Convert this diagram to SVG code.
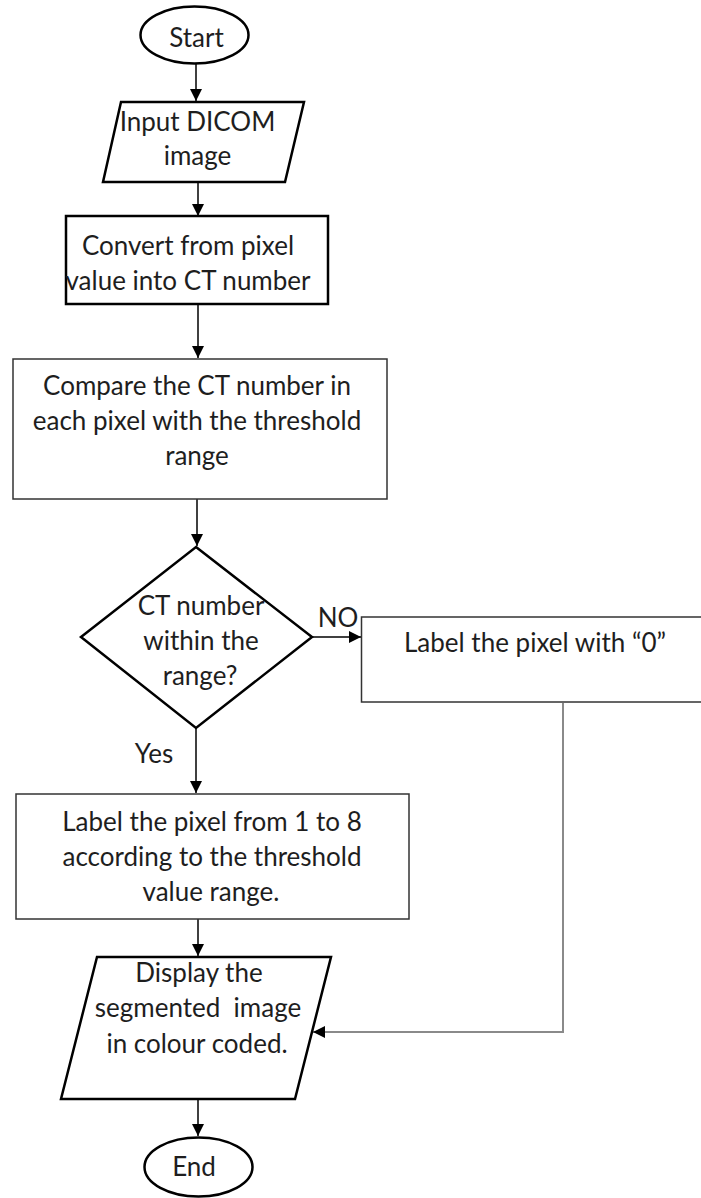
<svg xmlns="http://www.w3.org/2000/svg" width="701" height="1198" viewBox="0 0 701 1198">
<style>
.bg{fill:#ffffff}
.thick{fill:#ffffff;stroke:#000000;stroke-width:2.5}
.thin{fill:#ffffff;stroke:#333333;stroke-width:1.5}
.t{font-family:Lato,"Open Sans","Liberation Sans",sans-serif;font-size:26px;fill:#1e1e1e;text-anchor:middle;white-space:pre}
.arr{fill:none;stroke:#000000;stroke-width:1.5;marker-end:url(#ah)}
.gray{fill:none;stroke:#8a8a8a;stroke-width:2;marker-end:url(#ah)}
</style>
<defs>
<marker id="ah" viewBox="0 0 10 10" refX="10" refY="5" markerUnits="userSpaceOnUse" markerWidth="12" markerHeight="12" orient="auto">
<path d="M0,0 L10,5 L0,10 z" fill="#000000"/>
</marker>
</defs>
<rect class="bg" x="0" y="0" width="701" height="1198"/>

<g id="connectors">
<line class="arr" x1="196" y1="63" x2="196" y2="101"/>
<line class="arr" x1="198" y1="182" x2="198" y2="216"/>
<line class="arr" x1="198" y1="304" x2="198" y2="358"/>
<line class="arr" x1="197" y1="499" x2="197" y2="546"/>
<line class="arr" x1="312" y1="637" x2="361" y2="637"/>
<line class="arr" x1="196" y1="728" x2="196" y2="793"/>
<line class="arr" x1="198" y1="919" x2="198" y2="956"/>
<polyline class="gray" points="563,703 563,1032 313,1032"/>
<line class="arr" x1="198" y1="1099" x2="198" y2="1136"/>
<text class="t" x="338" y="627">NO</text>
<text class="t" x="154" y="763">Yes</text>
</g>

<g id="start">
<ellipse class="thick" cx="194.5" cy="35" rx="54" ry="28.5"/>
<text class="t" x="196.5" y="46.5">Start</text>
</g>

<g id="input">
<polygon class="thick" points="121,102 304,102 285,182 103,182"/>
<text class="t" x="197.5" y="131">Input DICOM</text>
<text class="t" x="197.5" y="165">image</text>
</g>

<g id="convert">
<rect class="thick" x="66" y="216" width="262" height="88"/>
<text class="t" x="188" y="255">Convert from pixel</text>
<text class="t" x="188" y="290">value into CT number</text>
</g>

<g id="compare">
<rect class="thin" x="13" y="359" width="374" height="140"/>
<text class="t" x="197" y="395">Compare the CT number in</text>
<text class="t" x="197" y="430">each pixel with the threshold</text>
<text class="t" x="197" y="465">range</text>
</g>

<g id="decision">
<polygon class="thick" points="196,547 312,637 196,728 81,637"/>
<text class="t" x="201" y="615">CT number</text>
<text class="t" x="201" y="650">within the</text>
<text class="t" x="200" y="685">range?</text>
</g>

<g id="label0">
<rect class="thin" x="361.5" y="617" width="341" height="85"/>
<text class="t" x="535" y="652">Label the pixel with “0”</text>
</g>

<g id="label18">
<rect class="thin" x="16" y="794" width="393" height="125"/>
<text class="t" x="212" y="831">Label the pixel from 1 to 8</text>
<text class="t" x="212" y="866">according to the threshold</text>
<text class="t" x="211" y="901">value range.</text>
</g>

<g id="display">
<polygon class="thick" points="97,957 331,957 295,1099 61,1099"/>
<text class="t" x="199" y="982">Display the</text>
<text class="t" x="198" y="1017">segmented  image</text>
<text class="t" x="197" y="1053">in colour coded.</text>
</g>

<g id="end">
<ellipse class="thick" cx="198.5" cy="1167" rx="54" ry="29.5"/>
<text class="t" x="194" y="1176">End</text>
</g>
</svg>
